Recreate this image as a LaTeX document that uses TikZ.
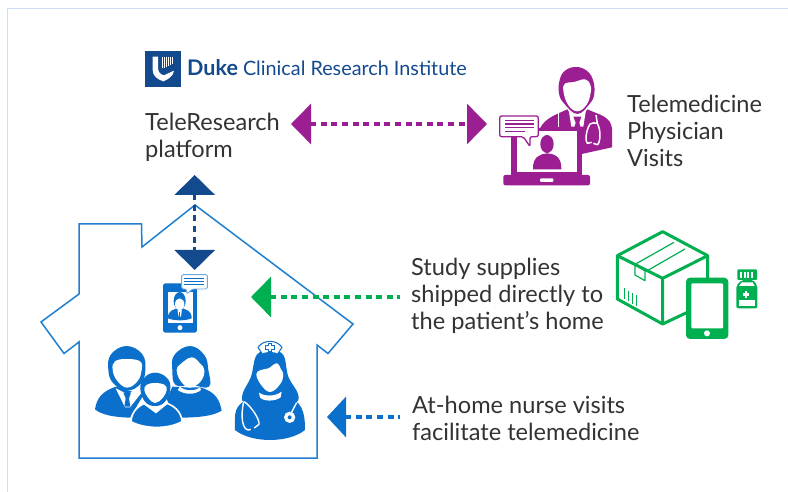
\documentclass[tikz,border=0pt]{standalone}
\usepackage{fontspec}
\setmainfont{Lato}
\usetikzlibrary{arrows.meta}
\definecolor{cPurple}{HTML}{9B1F92}
\definecolor{cGreen}{HTML}{00B050}
\definecolor{cBlue}{HTML}{0A70CC}
\definecolor{cNavy}{HTML}{134A8E}
\definecolor{cText}{HTML}{333333}
\definecolor{cFrame}{HTML}{CBDCF5}
\definecolor{cHouse}{HTML}{1F7FD0}
\tikzset{
  label text/.style={anchor=north west,inner sep=0pt,align=left,text=cText,font=\fontsize{23.6}{27}\selectfont},
  link/.style={line width=3.4pt,dash pattern=on 6pt off 4.6pt},
}
\begin{document}
\begin{tikzpicture}[x=1pt,y=-1pt]
\useasboundingbox (0,0) rectangle (788,492);
\fill[white] (0,0) rectangle (788,492);
% frame
\draw[cFrame,line width=1.4pt] (7.5,492) -- (7.5,8.7) -- (788,8.7);
% house
\draw[cHouse,line width=1.5pt,line join=miter] (79,224) -- (141.5,224) -- (142,247) -- (195,205) -- (353,324) -- (328,353.5) -- (317,345) -- (317,458) -- (79,458) -- (79,342) -- (64,353.5) -- (41,322) -- (79,294) -- cycle;

% connector ends
\coordinate (pL) at (291,124);
\coordinate (pR) at (487,124);
\coordinate (nT) at (194.7,175);
\coordinate (nB) at (194.7,270);
\coordinate (gT) at (251,297);
\coordinate (gE) at (400,297);
\coordinate (bT) at (327,417);
\coordinate (bE) at (400,417);
\draw[link,cPurple,{Triangle[length=20pt,width=40pt]}-{Triangle[length=20pt,width=40pt]}] (pL) -- (pR);
\draw[link,cNavy,{Triangle[length=20pt,width=40pt]}-{Triangle[length=20pt,width=40pt]}] (nT) -- (nB);
\draw[link,cGreen,{Triangle[length=20pt,width=40pt]}-] (gT) -- (gE);
\draw[link,cBlue,{Triangle[length=19pt,width=40pt]}-] (bT) -- (bE);

% texts
\node[label text] (tele) at (145,113) {TeleResearch\\platform};
\node[label text] (phys) at (627,95) {Telemedicine\\Physician\\Visits};
\node[label text] (supp) at (411,258) {Study supplies\\shipped directly to\\the patient’s home};
\node[label text] (nurse) at (412,396) {At-home nurse visits\\facilitate telemedicine};
\node[anchor=base west,inner sep=0pt,text=cNavy,font=\fontsize{19.8}{24}\selectfont] (duke) at (187,76) {\textbf{\fontsize{21.5}{24}\selectfont Duke} Clinical Research Institute};

% Duke shield
\begin{scope}[shift={(130,40)},scale=1/3]
\fill[cNavy] (45,33) rectangle (153,141);
\fill[white] (68,50) -- (84,50) -- (84,82) .. controls (84,98) and (92,103) .. (102,106) -- (132,92) .. controls (130,108) and (115,118) .. (100,124) .. controls (82,118) and (68,108) .. (68,90) -- cycle;
\foreach \xx in {97,103,109,115,121,127}{\draw[white,line width=1pt] (\xx,50) -- (\xx,{124-0.4*\xx});}
\end{scope}

% Physician icon
\begin{scope}[shift={(490,60)},scale=1/3]
% body
\fill[cPurple] (150,205) .. controls (165,175) and (195,165) .. (232,148) -- (262,190) -- (292,148) .. controls (330,165) and (362,170) .. (366,205) -- (366,262) -- (275,282) -- (150,215) -- cycle;
\fill[white] (236,150) -- (262,176) -- (288,150) -- (280,200) -- (244,200) -- cycle;
\fill[cPurple] (250,170) -- (274,170) -- (268,188) -- (275,215) -- (250,215) -- (257,188) -- cycle;
% head
\fill[cPurple] plot[smooth cycle,tension=.7] coordinates {(207,100)(209,60)(225,32)(258,21)(290,32)(309,60)(313,100)(300,130)(262,162)(222,130)};
\fill[white] plot[smooth cycle,tension=.7] coordinates {(220,92)(226,70)(252,66)(285,58)(301,74)(302,98)(290,134)(262,154)(234,134)};
\draw[white,line width=1.1pt] (205,160) -- (205,200);
\draw[white,line width=1.5pt,line join=round] (318,165) -- (322,190) .. controls (335,215) and (330,250) .. (322,254) -- (310,250) (300,192) .. controls (286,215) and (286,245) .. (292,250) -- (305,247) (300,192) .. controls (305,188) and (315,188) .. (322,190);
% laptop
\fill[white] (62,205) rectangle (275,345);
\fill[cPurple] (62,215) rectangle (80,340);
\fill[cPurple] (262,205) rectangle (277,340);
\fill[cPurple] (62,335) rectangle (277,345);
\fill[cPurple,rounded corners=2pt] (40,345) rectangle (300,376);
\fill[white,rounded corners=1pt] (150,355) rectangle (190,366);
\fill[cPurple] (80,205) rectangle (262,212);
% patient
\fill[cPurple] (171,252) ellipse (20 and 27);
\fill[cPurple] (129,328) .. controls (128,290) and (150,282) .. (171,280) .. controls (195,282) and (215,290) .. (214,328) -- cycle;
% bubble
\draw[cPurple,fill=white,line width=1.3pt,rounded corners=2pt,line join=round] (29,168) -- (145,168) -- (145,230) -- (120,230) -- (120,260) -- (100,230) -- (29,230) -- cycle;
\foreach \yy in {181,192,203}{\draw[cPurple,line width=1.1pt] (45,\yy) -- (132,\yy);}
\draw[cPurple,line width=1.1pt] (45,214) -- (105,214);
\end{scope}

% Supplies icon
\begin{scope}[shift={(600,225)},scale=1/3,line join=round]
\draw[cGreen,line width=3pt] (323,165) -- (323,92) -- (188,20) -- (52,92) -- (52,222) -- (188,297) -- (262,262);
\draw[cGreen,line width=3pt] (52,92) -- (188,160) -- (323,92) (188,160) -- (188,297);
\draw[cGreen,line width=1.2pt] (105,118) -- (222,52) (140,138) -- (255,72) (105,118) -- (105,150) -- (135,167) -- (135,138) -- cycle;
\foreach \xa/\ya in {73/190,85/197,98/204,110/211}{\draw[cGreen,line width=1.2pt] (\xa,\ya) -- (\xa,\ya+32);}
\fill[cGreen,rounded corners=4pt] (258,158) rectangle (385,342);
\fill[white,rounded corners=1pt] (274,175) rectangle (369,310);
\fill[white] (321,325) circle (9);
% bottle
\fill[cGreen,rounded corners=1pt] (412,133) rectangle (471,165);
\foreach \xx in {420,431,442,453}{\fill[white] (\xx,141) rectangle (\xx+6,158);}
\fill[cGreen,rounded corners=2pt] (425,165) -- (460,165) -- (472,182) -- (472,250) -- (409,250) -- (409,182) -- cycle;
\fill[white] (425,172) -- (458,172) -- (464,183) -- (417,183) -- cycle;
\fill[white] (417,226) rectangle (464,242);
\fill[white] (434,198) rectangle (442,218);
\fill[white] (428,204) rectangle (448,212);
\end{scope}

% Family, nurse and tablet
\begin{scope}[shift={(85,270)},scale=1/3]
% tablet
\fill[cBlue,rounded corners=2.5pt] (234,40) rectangle (336,188);
\fill[white] (248,65) rectangle (323,160);
\fill[white] (285,173) circle (7.5);
\fill[cBlue] (248,145) .. controls (250,120) and (265,120) .. (276,115) -- (284,130) -- (293,115) .. controls (305,120) and (320,122) .. (320,145) .. controls (300,153) and (270,153) .. (248,145) -- cycle;
\fill[white] (277,117) -- (284,128) -- (291,117) -- (288,140) -- (281,140) -- cycle;
\fill[cBlue] (284,93) ellipse (18 and 27);
\fill[white] (284,103) ellipse (14 and 18);
\draw[cBlue,line width=.6pt] (284,125) -- (284,145);
\draw[cBlue!60,fill=white,line width=.9pt,rounded corners=1.5pt,line join=round] (290,14) -- (367,14) -- (367,57) -- (322,57) -- (305,73) -- (305,57) -- (290,57) -- cycle;
\foreach \yy in {24,33,42}{\draw[cBlue,line width=.9pt] (298,\yy) -- (358,\yy);}
% man
\fill[cBlue] (30,418) .. controls (35,385) and (50,365) .. (92,350) -- (175,375) -- (135,443) .. controls (90,442) and (50,435) .. (30,418) -- cycle;
\fill[white] (92,355) -- (127,372) -- (162,355) -- (172,365) -- (135,412) -- (120,412) -- cycle;
\fill[cBlue] (115,368) -- (138,368) -- (132,385) -- (136,410) -- (118,410) -- (122,385) -- cycle;
\fill[cBlue] plot[smooth cycle,tension=.7] coordinates {(70,300)(78,253)(125,228)(172,253)(181,300)(168,340)(127,362)(85,340)};
\fill[white] plot[smooth cycle,tension=.7] coordinates {(83,300)(90,274)(125,267)(165,274)(170,300)(158,333)(127,353)(97,333)};
% woman
\fill[cBlue] (262,350) -- (300,352) -- (345,352) .. controls (395,365) and (405,395) .. (410,422) .. controls (385,438) and (340,443) .. (280,443) -- (240,400) -- cycle;
\fill[cBlue] plot[smooth cycle,tension=.7] coordinates {(262,300)(268,255)(315,228)(358,255)(370,300)(372,350)(320,345)(272,345)};
\fill[white] plot[smooth cycle,tension=.7] coordinates {(275,300)(287,282)(320,262)(345,280)(358,300)(348,333)(315,353)(287,333)};
\fill[white] (285,350) .. controls (300,364) and (330,364) .. (345,352) -- (348,360) .. controls (330,375) and (300,375) .. (278,360) -- cycle;
% child
\fill[cBlue,draw=white,line width=1.6pt] (138,455) .. controls (140,420) and (165,405) .. (185,398) -- (240,398) .. controls (265,405) and (290,425) .. (291,455) .. controls (250,478) and (180,478) .. (138,455) -- cycle;
\fill[white] (178,385) -- (244,385) -- (250,400) -- (213,430) -- (172,400) -- cycle;
\fill[cBlue] plot[smooth cycle,tension=.7] coordinates {(166,355)(178,323)(210,308)(245,323)(256,355)(240,395)(210,408)(180,395)};
\fill[white] plot[smooth cycle,tension=.7] coordinates {(178,360)(186,344)(210,339)(238,344)(245,360)(233,384)(210,399)(190,384)};
% nurse
\fill[cBlue] plot[smooth cycle,tension=.6] coordinates {(515,255)(555,240)(595,255)(610,320)(640,375)(620,400)(490,400)(472,375)(498,320)};
\fill[cBlue] (450,445) .. controls (450,410) and (465,395) .. (515,375) -- (600,375) .. controls (650,395) and (660,420) .. (660,480) .. controls (610,520) and (500,520) .. (450,480) -- cycle;
\fill[white] (522,368) .. controls (540,380) and (570,380) .. (590,365) -- (587,382) .. controls (570,395) and (535,395) .. (525,382) -- cycle;
\fill[white] plot[smooth cycle,tension=.7] coordinates {(514,312)(528,300)(550,295)(575,280)(588,298)(595,315)(585,343)(555,366)(527,343)};
\draw[cBlue,fill=white,line width=1pt,line join=round] (519,232) .. controls (535,208) and (575,208) .. (591,232) -- (578,252) .. controls (565,246) and (545,246) .. (532,252) -- cycle;
\fill[cBlue] (548,219) rectangle (562,246);
\fill[cBlue] (541,226) rectangle (569,239);
\fill[white] (551,222) rectangle (559,243);
\fill[white] (544,229) rectangle (566,236);
\draw[white,line width=1.4pt,line join=round] (476,395) .. controls (466,440) and (472,478) .. (490,480) -- (497,478) (478,395) .. controls (500,410) and (525,450) .. (522,463) -- (508,474) (635,398) -- (618,430);
\fill[white] (614,442) circle (17);
\fill[cBlue] (614,442) circle (6);
\end{scope}
\end{tikzpicture}
\end{document}
